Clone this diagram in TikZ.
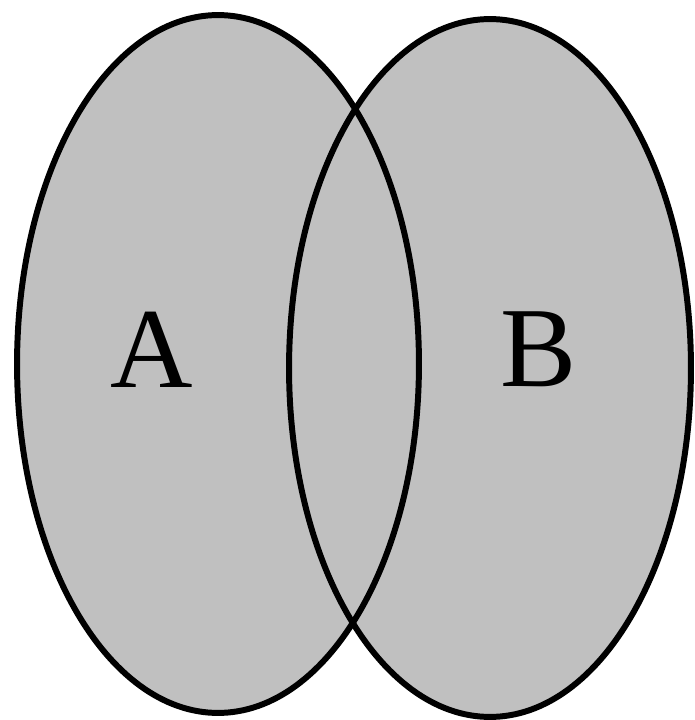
\documentclass[tikz,border=0pt]{standalone}
\usepackage{fontspec}
\setmainfont{Liberation Serif}
\usetikzlibrary{shapes.geometric,backgrounds}
\definecolor{ink}{HTML}{000000}
\definecolor{setfill}{HTML}{C0C0C0}
\tikzset{
  setshape/.style={ellipse,draw=ink,line width=3.4pt,inner sep=0pt,
                   minimum width=8.04cm,minimum height=13.96cm},
  setlabel/.style={text=ink,inner sep=0pt,font=\fontsize{65}{65}\selectfont},
}

\begin{document}
\begin{tikzpicture}[x=0.02cm,y=-0.02cm]
  \useasboundingbox (0,0) rectangle (695,720);

  % the two sets, outlines on top
  \node[setshape] (setA) at (218,364) {};
  \node[setshape] (setB) at (490,368) {};

  % grey fill behind both outlines
  \begin{scope}[on background layer]
    \fill[setfill] (setA.center) ellipse [x radius=4.02cm,y radius=6.98cm];
    \fill[setfill] (setB.center) ellipse [x radius=4.02cm,y radius=6.98cm];
  \end{scope}

  \node[setlabel] (labA) at (152,350) {A};
  \node[setlabel] (labB) at (539,349) {B};
\end{tikzpicture}
\end{document}
